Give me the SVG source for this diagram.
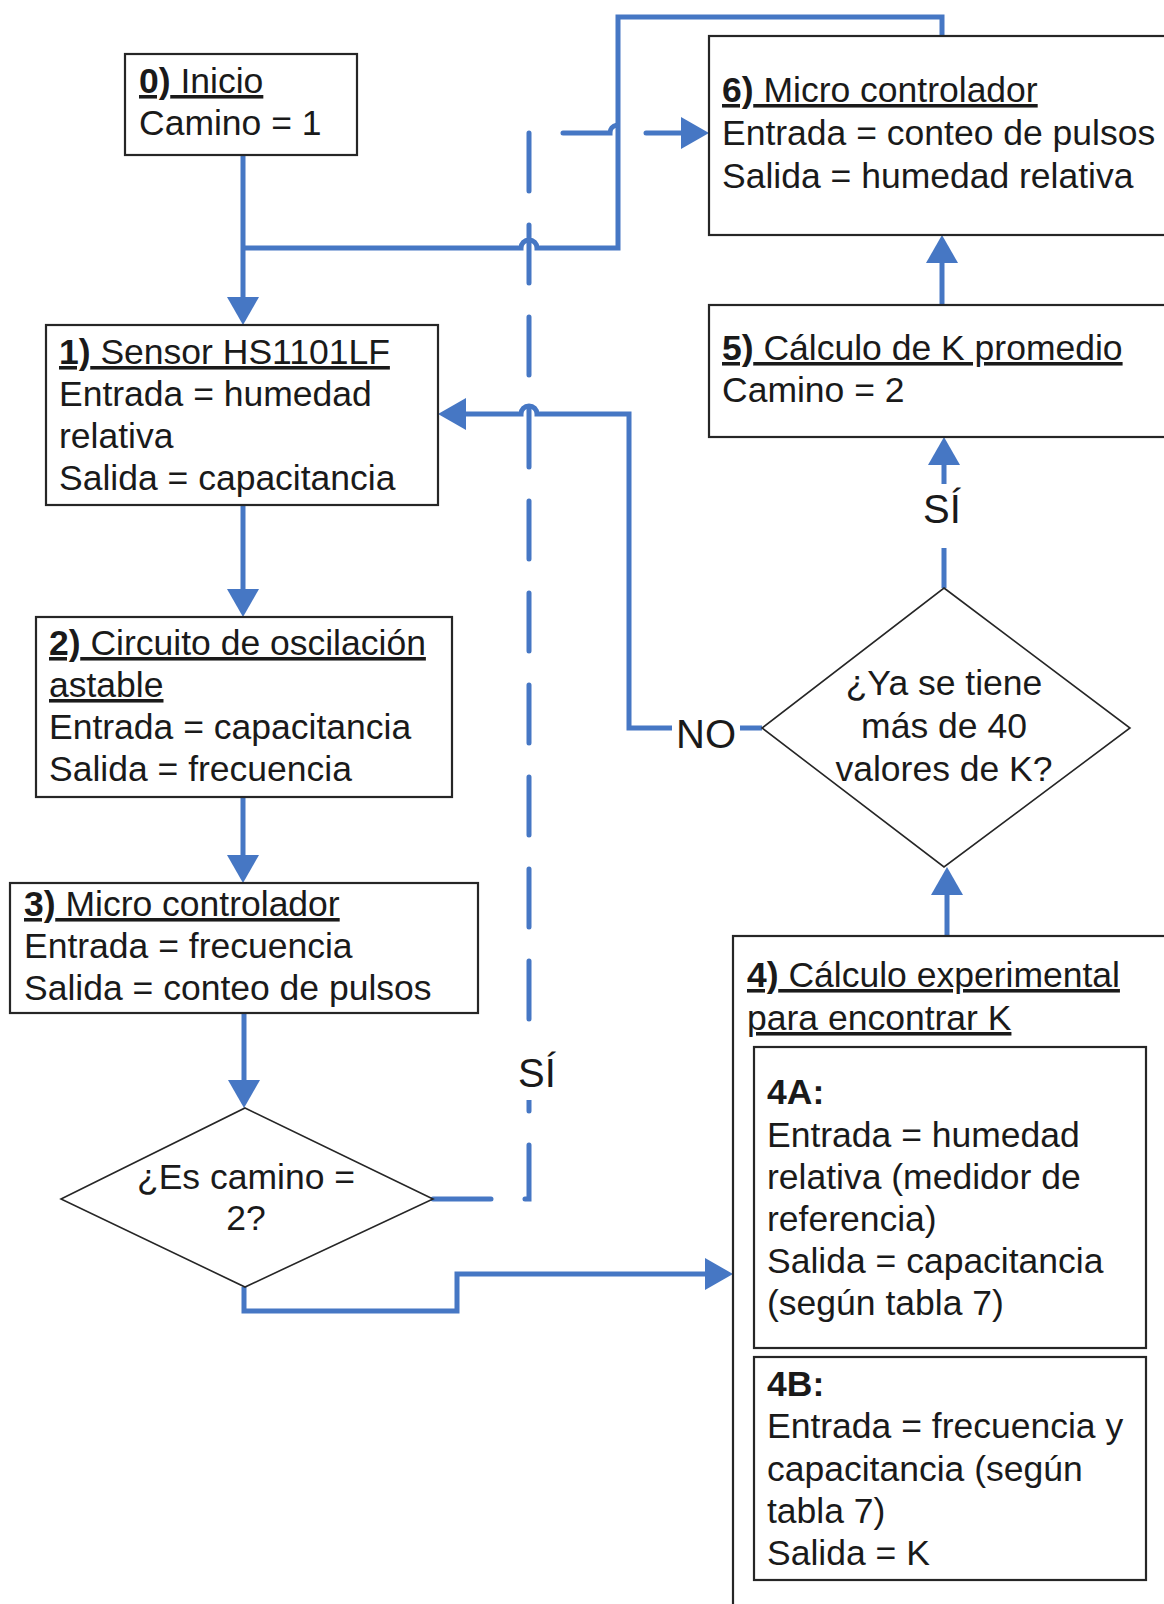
<svg xmlns="http://www.w3.org/2000/svg" width="1164" height="1604" viewBox="0 0 1164 1604">
  <style>
    .box { fill: #ffffff; stroke: #262626; stroke-width: 2.2; }
    .dia { fill: #ffffff; stroke: #262626; stroke-width: 1.6; }
    .t { font-family: "Liberation Sans", Arial, sans-serif; font-size: 35.5px; fill: #1a1a1a; }
    .lbl { font-family: "Liberation Sans", Arial, sans-serif; font-size: 40px; fill: #1a1a1a; text-anchor: middle; }
    .c { text-anchor: middle; }
    .u { text-decoration: underline; }
    .b { font-weight: bold; }
    .ln { fill: none; stroke: #4677c4; stroke-width: 5; stroke-linejoin: miter; }
    .dash { stroke-dasharray: 58 34; stroke-linecap: round; }
    .bg { fill: #ffffff; }
  </style>
  <defs>
    <marker id="arrow" markerUnits="userSpaceOnUse" markerWidth="30" markerHeight="32" refX="18" refY="16" orient="auto">
      <path d="M0,0 L28,16 L0,32 Z" fill="#4677c4"/>
    </marker>
  </defs>

  <rect width="1164" height="1604" fill="#ffffff"/>

  <!-- connectors -->
  <g id="connectors">
    <!-- 0 -> 1 -->
    <path class="ln" d="M243,155 V315" marker-end="url(#arrow)"/>
    <!-- branch from trunk up to the top of 6 -->
    <path class="ln" d="M243,248 H521 A8,8 0 0 1 537,248 H618 V17 H942 V36"/>
    <!-- 1 -> 2 -->
    <path class="ln" d="M243,505 V607" marker-end="url(#arrow)"/>
    <!-- 2 -> 3 -->
    <path class="ln" d="M243,797 V873" marker-end="url(#arrow)"/>
    <!-- 3 -> decision A -->
    <path class="ln" d="M244,1013 V1098" marker-end="url(#arrow)"/>
    <!-- decision A (no) -> 4 -->
    <path class="ln" d="M244,1287 V1311 H457 V1274 H723" marker-end="url(#arrow)"/>
    <!-- decision A (yes) -> 6, dashed -->
    <path class="ln dash" d="M433,1199 H529 V133 H610 A8,8 0 0 1 626,133 H699" marker-end="url(#arrow)"/>
    <!-- decision B (no) -> 1 -->
    <path class="ln" d="M762,728 H629 V414 H537 A8,8 0 0 0 521,414 H448" marker-end="url(#arrow)"/>
    <!-- 4 -> decision B -->
    <path class="ln" d="M947,936 V877" marker-end="url(#arrow)"/>
    <!-- decision B (yes) -> 5 -->
    <path class="ln" d="M944,588 V447" marker-end="url(#arrow)"/>
    <!-- 5 -> 6 -->
    <path class="ln" d="M942,305 V245" marker-end="url(#arrow)"/>

    <!-- connector labels -->
    <rect class="bg" x="512" y="1040" width="50" height="60"/>
    <text class="lbl" x="537" y="1087">SÍ</text>
    <rect class="bg" x="918" y="484" width="52" height="64"/>
    <text class="lbl" x="942" y="523">SÍ</text>
    <rect class="bg" x="672" y="710" width="68" height="40"/>
    <text class="lbl" x="706" y="748">NO</text>
  </g>

  <!-- 0) Inicio -->
  <g id="node0">
    <rect class="box" x="125" y="54" width="232" height="101"/>
    <text class="t" x="139" y="93"><tspan class="u"><tspan class="b">0)</tspan> Inicio</tspan></text>
    <text class="t" x="139" y="135">Camino = 1</text>
  </g>

  <!-- 1) Sensor -->
  <g id="node1">
    <rect class="box" x="46" y="325" width="392" height="180"/>
    <text class="t u" x="59" y="364"><tspan class="b">1)</tspan> Sensor HS1101LF</text>
    <text class="t" x="59" y="406">Entrada = humedad</text>
    <text class="t" x="59" y="448">relativa</text>
    <text class="t" x="59" y="490">Salida = capacitancia</text>
  </g>

  <!-- 2) Circuito de oscilación -->
  <g id="node2">
    <rect class="box" x="36" y="617" width="416" height="180"/>
    <text class="t u" x="49" y="655"><tspan class="b">2)</tspan> Circuito de oscilación</text>
    <text class="t u" x="49" y="697">astable</text>
    <text class="t" x="49" y="739">Entrada = capacitancia</text>
    <text class="t" x="49" y="781">Salida = frecuencia</text>
  </g>

  <!-- 3) Micro controlador -->
  <g id="node3">
    <rect class="box" x="10" y="883" width="468" height="130"/>
    <text class="t u" x="24" y="916"><tspan class="b">3)</tspan> Micro controlador</text>
    <text class="t" x="24" y="958">Entrada = frecuencia</text>
    <text class="t" x="24" y="1000">Salida = conteo de pulsos</text>
  </g>

  <!-- decision: camino = 2 -->
  <g id="decisionA">
    <polygon class="dia" points="245,1108 433,1199 245,1287 61,1199"/>
    <text class="t c" x="246" y="1189">¿Es camino =</text>
    <text class="t c" x="246" y="1230">2?</text>
  </g>

  <!-- 6) Micro controlador -->
  <g id="node6">
    <rect class="box" x="709" y="36" width="470" height="199"/>
    <text class="t u" x="722" y="102"><tspan class="b">6)</tspan> Micro controlador</text>
    <text class="t" x="722" y="145">Entrada = conteo de pulsos</text>
    <text class="t" x="722" y="188">Salida = humedad relativa</text>
  </g>

  <!-- 5) Cálculo de K promedio -->
  <g id="node5">
    <rect class="box" x="709" y="305" width="470" height="132"/>
    <text class="t u" x="722" y="360"><tspan class="b">5)</tspan> Cálculo de K promedio</text>
    <text class="t" x="722" y="402">Camino = 2</text>
  </g>

  <!-- decision: more than 40 values -->
  <g id="decisionB">
    <polygon class="dia" points="944,588 1130,728 944,867 762,728"/>
    <text class="t c" x="944" y="695">¿Ya se tiene</text>
    <text class="t c" x="944" y="738">más de 40</text>
    <text class="t c" x="944" y="781">valores de K?</text>
  </g>

  <!-- 4) Cálculo experimental -->
  <g id="node4">
    <rect class="box" x="733" y="936" width="446" height="680"/>
    <text class="t u" x="747" y="987"><tspan class="b">4)</tspan> Cálculo experimental</text>
    <text class="t u" x="747" y="1030">para encontrar K</text>
    <g id="node4A">
      <rect class="box" x="754" y="1047" width="392" height="301"/>
      <text class="t b" x="767" y="1104">4A:</text>
      <text class="t" x="767" y="1147">Entrada = humedad</text>
      <text class="t" x="767" y="1189">relativa (medidor de</text>
      <text class="t" x="767" y="1231">referencia)</text>
      <text class="t" x="767" y="1273">Salida = capacitancia</text>
      <text class="t" x="767" y="1315">(según tabla 7)</text>
    </g>
    <g id="node4B">
      <rect class="box" x="754" y="1357" width="392" height="223"/>
      <text class="t b" x="767" y="1396">4B:</text>
      <text class="t" x="767" y="1438">Entrada = frecuencia y</text>
      <text class="t" x="767" y="1481">capacitancia (según</text>
      <text class="t" x="767" y="1523">tabla 7)</text>
      <text class="t" x="767" y="1565">Salida = K</text>
    </g>
  </g>
</svg>
